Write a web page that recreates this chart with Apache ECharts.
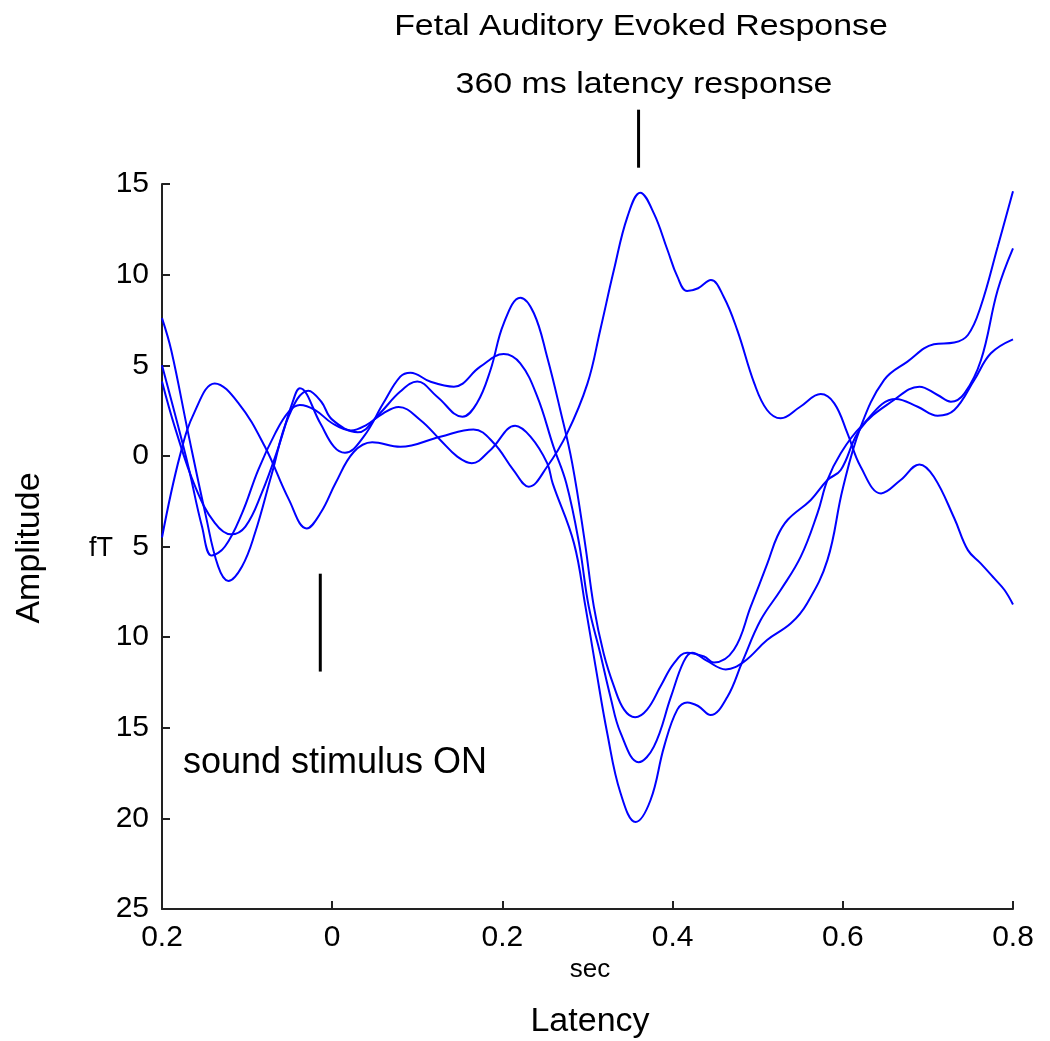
<!DOCTYPE html>
<html>
<head>
<meta charset="utf-8">
<title>Fetal Auditory Evoked Response</title>
<script src="https://cdn.jsdelivr.net/npm/echarts/dist/echarts.min.js"></script>
<style>
  html, body { margin: 0; padding: 0; background: #fff; }
  #chart { width: 1050px; height: 1041px; }
</style>
</head>
<body>
<div id="chart"></div>
<script>
// latency (sec), amplitude (fT)
var traceA = [[-0.2,-4.5],[-0.179,0.0],[-0.161,2.5],[-0.138,4.0],[-0.11,2.9],[-0.079,0.5],[-0.051,-2.4],[-0.03,-4.0],[-0.013,-3.1],[0.004,-1.5],[0.025,0.2],[0.047,0.75],[0.08,0.5],[0.127,1.06],[0.166,1.46],[0.19,0.7],[0.213,-0.78],[0.231,-1.7],[0.2525,-0.6],[0.276,1.24],[0.3,4.0],[0.315,6.95],[0.331,10.25],[0.347,13.2],[0.362,14.52],[0.378,13.38],[0.394,11.36],[0.4055,9.9],[0.417,9.1],[0.43,9.25],[0.445,9.7],[0.46,8.78],[0.476,6.94],[0.496,4.0],[0.511,2.53],[0.527,2.07],[0.55,2.71],[0.574,3.41],[0.59,2.9],[0.6055,1.24],[0.621,-0.6],[0.645,-2.07],[0.668,-1.33],[0.69,-0.47],[0.707,-1.15],[0.731,-3.44],[0.747,-5.2],[0.762,-5.93],[0.778,-6.76],[0.79,-7.4],[0.8,-8.2]];
var traceB = [[-0.2,7.6],[-0.189,5.8],[-0.169,1.2],[-0.149,-3.2],[-0.134,-6.1],[-0.122,-6.9],[-0.106,-6.1],[-0.091,-4.3],[-0.071,-1.0],[-0.051,2.2],[-0.028,3.6],[-0.013,3.0],[0.0,2.0],[0.03,1.3],[0.055,2.3],[0.08,3.55],[0.1,4.1],[0.123,3.28],[0.153,2.16],[0.17,2.9],[0.186,4.74],[0.2015,7.3],[0.221,8.73],[0.237,7.87],[0.2525,5.47],[0.268,2.53],[0.282,-0.4],[0.297,-4.8],[0.3074,-8.3],[0.319,-10.9],[0.331,-12.7],[0.343,-14.0],[0.356,-14.42],[0.37,-14.0],[0.386,-12.7],[0.4015,-11.45],[0.417,-10.86],[0.437,-11.07],[0.4486,-11.4],[0.472,-10.7],[0.4918,-8.32],[0.5114,-5.93],[0.523,-4.45],[0.535,-3.54],[0.5624,-2.43],[0.582,-1.33],[0.5976,-0.78],[0.621,1.52],[0.66,3.08],[0.69,3.82],[0.7114,3.36],[0.727,2.99],[0.743,3.45],[0.7624,5.29],[0.782,9.15],[0.8,11.45]];
var traceC = [[-0.2,4.1],[-0.185,1.6],[-0.161,-1.7],[-0.138,-3.7],[-0.119,-4.33],[-0.102,-3.9],[-0.083,-2.07],[-0.063,0.5],[-0.047,2.9],[-0.038,3.73],[-0.014,1.8],[0.002,0.51],[0.015,0.17],[0.037,1.06],[0.06,2.9],[0.08,4.37],[0.092,4.59],[0.115,4.1],[0.143,3.82],[0.174,4.92],[0.2015,5.62],[0.221,5.1],[0.241,3.27],[0.26,0.51],[0.275,-1.5],[0.29,-4.8],[0.3015,-8.32],[0.315,-10.9],[0.327,-13.3],[0.339,-15.3],[0.36,-16.9],[0.378,-16.04],[0.398,-13.3],[0.413,-11.35],[0.423,-10.86],[0.44,-11.3],[0.4624,-11.78],[0.484,-11.35],[0.511,-10.16],[0.539,-9.24],[0.558,-8.14],[0.582,-5.74],[0.6,-1.8],[0.621,1.6],[0.6486,4.19],[0.676,5.2],[0.707,6.16],[0.731,6.25],[0.747,6.67],[0.762,8.23],[0.782,11.54],[0.8,14.6]];
var traceD = [[-0.2,5.0],[-0.185,2.35],[-0.169,-0.6],[-0.153,-3.9],[-0.1415,-5.5],[-0.126,-5.0],[-0.106,-3.17],[-0.087,-0.78],[-0.067,1.24],[-0.051,2.44],[-0.038,2.81],[-0.02,2.53],[0.0,1.8],[0.022,1.4],[0.04,1.7],[0.06,2.35],[0.078,2.7],[0.1035,1.98],[0.127,0.88],[0.147,-0.04],[0.164,-0.4],[0.186,0.33],[0.215,1.66],[0.233,1.06],[0.2526,-0.4],[0.259,-1.5],[0.284,-4.8],[0.2976,-8.32],[0.3094,-11.6],[0.3232,-15.3],[0.3388,-18.6],[0.3565,-20.2],[0.374,-19.0],[0.39,-16.04],[0.4055,-14.0],[0.4173,-13.6],[0.43,-13.8],[0.4447,-14.3],[0.4643,-13.3],[0.482,-11.35],[0.5035,-9.06],[0.527,-7.4],[0.5506,-5.56],[0.5702,-3.17],[0.582,-1.33],[0.5976,0.14],[0.621,1.6],[0.6624,3.14],[0.688,2.71],[0.7114,2.22],[0.731,2.53],[0.7545,4.19],[0.774,5.66],[0.8,6.43]];

// annotation markers: [latency, amplitude from, amplitude to]
var stimulusMark = [-0.014, -6.5, -11.9];
var responseMark = [0.36, 15.9, 19.1];

var font = "'Liberation Sans', Arial, Helvetica, sans-serif";

var chart = echarts.init(document.getElementById("chart"));

function trace(data) {
  return {
    type: "line",
    data: data,
    smooth: 0.4,
    showSymbol: false,
    silent: true,
    lineStyle: { color: "#0000ff", width: 2 }
  };
}

function absLabel(v) {
  return String(Math.abs(Math.round(v * 100) / 100));
}

chart.setOption({
  backgroundColor: "#ffffff",
  animation: false,
  grid: { left: 162, right: 37, top: 184, bottom: 132 },
  xAxis: {
    type: "value",
    min: -0.2,
    max: 0.8,
    interval: 0.2,
    splitLine: { show: false },
    axisLine: { onZero: false, lineStyle: { color: "#222", width: 2 } },
    axisTick: { inside: true, length: 8, lineStyle: { color: "#222", width: 2 } },
    axisLabel: { color: "#000", fontFamily: font, fontSize: 30, margin: 14, formatter: absLabel }
  },
  yAxis: {
    type: "value",
    min: -25,
    max: 15,
    interval: 5,
    splitLine: { show: false },
    axisLine: { show: true, onZero: false, lineStyle: { color: "#222", width: 2 } },
    axisTick: { show: true, inside: true, length: 8, lineStyle: { color: "#222", width: 2 } },
    axisLabel: { color: "#000", fontFamily: font, fontSize: 30, margin: 13, formatter: absLabel }
  },
  series: [trace(traceA), trace(traceB), trace(traceC), trace(traceD)]
});

var s0 = chart.convertToPixel({ gridIndex: 0 }, [stimulusMark[0], stimulusMark[1]]);
var s1 = chart.convertToPixel({ gridIndex: 0 }, [stimulusMark[0], stimulusMark[2]]);
var r0 = chart.convertToPixel({ gridIndex: 0 }, [responseMark[0], responseMark[1]]);
var r1 = chart.convertToPixel({ gridIndex: 0 }, [responseMark[0], responseMark[2]]);

chart.setOption({
  graphic: [
    { type: "text", x: 641, y: 27, scaleX: 1.13,
      style: { text: "Fetal Auditory Evoked Response", fill: "#000", font: "30px " + font, textAlign: "center", textVerticalAlign: "middle" } },
    { type: "text", x: 644, y: 85, scaleX: 1.13,
      style: { text: "360 ms latency response", fill: "#000", font: "30px " + font, textAlign: "center", textVerticalAlign: "middle" } },
    { type: "line", shape: { x1: r0[0], y1: r0[1], x2: r1[0], y2: r1[1] }, style: { stroke: "#000", lineWidth: 3 } },
    { type: "line", shape: { x1: s0[0], y1: s0[1], x2: s1[0], y2: s1[1] }, style: { stroke: "#000", lineWidth: 3 } },
    { type: "text", x: 183, y: 763,
      style: { text: "sound stimulus ON", fill: "#000", font: "36px " + font, textAlign: "left", textVerticalAlign: "middle" } },
    { type: "text", x: 30, y: 548, rotation: Math.PI / 2,
      style: { text: "Amplitude", fill: "#000", font: "34px " + font, textAlign: "center", textVerticalAlign: "middle" } },
    { type: "text", x: 101, y: 549,
      style: { text: "fT", fill: "#000", font: "27px " + font, textAlign: "center", textVerticalAlign: "middle" } },
    { type: "text", x: 590, y: 970,
      style: { text: "sec", fill: "#000", font: "26px " + font, textAlign: "center", textVerticalAlign: "middle" } },
    { type: "text", x: 590, y: 1022,
      style: { text: "Latency", fill: "#000", font: "34px " + font, textAlign: "center", textVerticalAlign: "middle" } }
  ]
});
</script>
</body>
</html>
